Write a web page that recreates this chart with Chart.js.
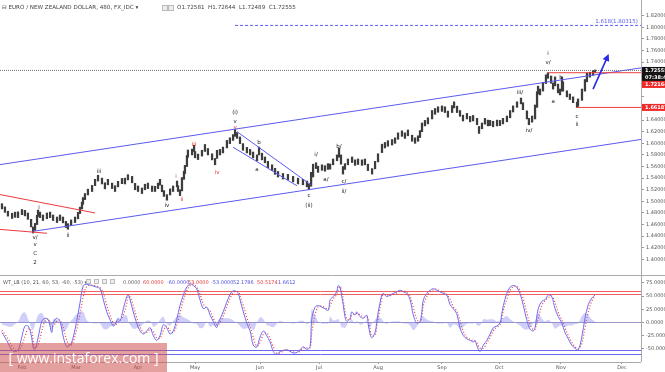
<!DOCTYPE html>
<html><head><meta charset="utf-8">
<script src="https://cdn.jsdelivr.net/npm/chart.js@4.4.0/dist/chart.umd.min.js"></script>
<style>
html,body{margin:0;padding:0;background:#fff;width:665px;height:372px;overflow:hidden;font-family:"DejaVu Sans","Liberation Sans",sans-serif;}
#wrap{position:relative;width:665px;height:372px;}
#c1{position:absolute;left:0;top:0;}
#c2{position:absolute;left:0;top:276px;}
.t{position:absolute;white-space:nowrap;font-size:5.6px;line-height:7px;color:#444;}
.o{position:absolute;white-space:nowrap;font-size:5px;line-height:6px;color:#666;}
#wm{position:absolute;left:0;top:343px;width:167px;height:29px;background:rgba(205,80,80,0.55);color:#fff;font-family:"Open Sans",sans-serif;font-size:14px;line-height:29px;text-align:center;white-space:nowrap;}
.ic{position:absolute;width:4px;height:4px;border:1px solid #bbb;background:#eee;}
</style></head>
<body><div id="wrap">
<canvas id="c1" width="665" height="276"></canvas>
<canvas id="c2" width="665" height="96"></canvas>
<div class="t" style="left:2px;top:4px;">⊟ EURO / NEW ZEALAND DOLLAR, 480, FX_IDC ▾</div>
<div class="ic" style="left:162px;top:5px;"></div><div class="ic" style="left:168px;top:5px;"></div>
<div class="t" style="left:177px;top:4px;">O1.72581&nbsp; H1.72644&nbsp; L1.72489&nbsp; C1.72555</div>
<div class="o" style="left:3px;top:279px;color:#555;">WT_LB (10, 21, 60, 53, -60, -53) ▾</div>
<div class="ic" style="left:86px;top:279px;width:3px;height:3px;"></div><div class="ic" style="left:94px;top:279px;width:3px;height:3px;"></div><div class="ic" style="left:102px;top:279px;width:3px;height:3px;"></div><div class="ic" style="left:110px;top:279px;width:3px;height:3px;"></div>
<div class="o" style="left:123px;top:279px;color:#666;">0.0000</div>
<div class="o" style="left:143px;top:279px;color:#e03a3a;">60.0000</div>
<div class="o" style="left:167px;top:279px;color:#5050e0;">-60.0000</div>
<div class="o" style="left:188px;top:279px;color:#e03a3a;">53.0000</div>
<div class="o" style="left:211px;top:279px;color:#5050e0;">-53.0000</div>
<div class="o" style="left:233px;top:279px;color:#5050e0;">52.1786</div>
<div class="o" style="left:257px;top:279px;color:#e03a3a;">50.5174</div>
<div class="o" style="left:278px;top:279px;color:#5050e0;">1.6612</div>
<div id="wm">[ www.instaforex.com ]</div>
</div>
<script>
// ---------- DATA ----------
const priceDays=[20.9,22.4,23.9,26.0,27.5,29.0,31.0,32.5,34.0,35.6,
36.6,37.6,38.6,39.1,40.1,41.6,43.6,45.2,46.7,48.7,
50.2,51.7,53.2,54.2,55.8,57.8,59.3,60.3,61.3,61.8,
62.8,64.3,66.4,67.9,69.4,71.4,72.9,74.4,76.5,78.0,
79.5,81.5,83.0,84.5,86.6,88.1,89.6,91.6,93.1,94.6,
96.7,98.2,99.7,100.7,101.7,102.7,104.2,105.8,107.3,109.3,
109.8,110.8,111.8,112.8,113.3,114.3,114.8,116.9,117.9,118.4,
119.9,121.9,123.4,124.9,127.0,128.5,129.5,131.0,132.5,134.5,
136.0,137.6,138.6,139.6,141.1,142.6,144.6,146.2,147.7,149.7,
150.7,152.2,153.7,155.2,157.3,158.8,160.3,162.8,165.3,167.9,
170.4,172.9,174.9,175.9,177.0,178.0,179.5,180.5,182.5,184.0,
185.5,186.6,188.1,190.1,191.1,192.1,193.1,194.1,195.6,197.7,
199.2,200.7,202.7,204.2,205.7,207.8,209.3,210.8,212.8,214.3,
215.8,217.9,219.4,220.9,222.9,224.4,225.9,228.0,229.5,231.0,
232.0,233.0,234.5,236.0,238.1,239.6,241.1,243.1,244.6,246.1,
248.2,249.2,250.7,252.2,253.7,255.7,257.3,258.8,260.8,261.8,
263.3,264.8,266.3,267.4,268.9,270.9,272.4,273.9,275.9,277.5,
279.0,281.0,283.0,284.0,286.0,287.0,288.6,290.1,291.1,291.6,
292.6,294.1,295.6,296.6,298.2,299.2,300.2,301.7,302.7,303.7,
304.2,306.2,307.7,309.3,311.3,311.8,313.8,315.3,316.3,317.8,
319.4,320.4];
const priceHigh=[1.4960,1.4905,1.4830,1.4795,1.4815,1.4820,1.4860,1.4845,1.4800,1.4690,
1.4560,1.4620,1.4760,1.4850,1.4815,1.4765,1.4800,1.4815,1.4765,1.4730,
1.4765,1.4730,1.4655,1.4615,1.4680,1.4730,1.4810,1.4900,1.4985,1.5065,
1.5135,1.5210,1.5275,1.5380,1.5450,1.5400,1.5320,1.5380,1.5315,1.5270,
1.5345,1.5395,1.5400,1.5460,1.5430,1.5310,1.5265,1.5230,1.5295,1.5315,
1.5265,1.5260,1.5315,1.5380,1.5280,1.5185,1.5115,1.5215,1.5265,1.5350,
1.5270,1.5200,1.5410,1.5520,1.5620,1.5790,1.5885,1.5900,1.5965,1.5860,
1.5815,1.5880,1.5980,1.5910,1.5820,1.5740,1.5880,1.5895,1.5935,1.6050,
1.6095,1.6150,1.6235,1.6185,1.6110,1.5995,1.5930,1.5895,1.5850,1.5800,
1.5935,1.5830,1.5765,1.5690,1.5630,1.5570,1.5515,1.5480,1.5465,1.5430,
1.5400,1.5380,1.5350,1.5300,1.5500,1.5640,1.5665,1.5605,1.5630,1.5615,
1.5650,1.5645,1.5730,1.5800,1.5915,1.5800,1.5600,1.5650,1.5730,1.5765,
1.5715,1.5730,1.5715,1.5730,1.5640,1.5565,1.5690,1.5820,1.5985,1.6015,
1.6045,1.6065,1.6095,1.6180,1.6215,1.6180,1.6230,1.6140,1.6095,1.6130,
1.6220,1.6350,1.6395,1.6440,1.6565,1.6600,1.6630,1.6645,1.6630,1.6555,
1.6650,1.6715,1.6640,1.6565,1.6485,1.6515,1.6465,1.6480,1.6430,1.6290,
1.6350,1.6430,1.6400,1.6395,1.6380,1.6400,1.6395,1.6430,1.6470,1.6565,
1.6645,1.6715,1.6780,1.6700,1.6560,1.6430,1.6470,1.6660,1.6890,1.6985,
1.6935,1.7050,1.7180,1.7216,1.7160,1.7040,1.7145,1.7020,1.6935,1.7140,
1.7060,1.6905,1.6850,1.6800,1.6710,1.6765,1.6935,1.7100,1.7210,1.7225,
1.7255,1.7264];
const priceLow=[1.4870,1.4810,1.4745,1.4705,1.4725,1.4720,1.4770,1.4750,1.4690,1.4560,
1.4455,1.4500,1.4600,1.4740,1.4720,1.4670,1.4700,1.4720,1.4670,1.4635,
1.4670,1.4630,1.4550,1.4520,1.4585,1.4635,1.4700,1.4790,1.4870,1.4950,
1.5030,1.5110,1.5170,1.5270,1.5350,1.5300,1.5215,1.5285,1.5220,1.5170,
1.5250,1.5305,1.5300,1.5370,1.5320,1.5200,1.5170,1.5135,1.5200,1.5220,
1.5170,1.5170,1.5220,1.5280,1.5165,1.5085,1.5020,1.5110,1.5170,1.5250,
1.5170,1.5100,1.5180,1.5380,1.5480,1.5600,1.5760,1.5800,1.5860,1.5750,
1.5720,1.5780,1.5860,1.5800,1.5715,1.5630,1.5740,1.5800,1.5835,1.5920,
1.5995,1.6050,1.6120,1.6085,1.5995,1.5880,1.5835,1.5800,1.5750,1.5700,
1.5800,1.5715,1.5665,1.5580,1.5530,1.5465,1.5420,1.5385,1.5370,1.5335,
1.5300,1.5285,1.5250,1.5200,1.5260,1.5420,1.5565,1.5500,1.5535,1.5520,
1.5550,1.5555,1.5630,1.5700,1.5760,1.5640,1.5470,1.5550,1.5630,1.5670,
1.5620,1.5635,1.5620,1.5630,1.5530,1.5470,1.5560,1.5680,1.5840,1.5920,
1.5950,1.5970,1.6000,1.6070,1.6120,1.6085,1.6130,1.6035,1.6000,1.6035,
1.6100,1.6200,1.6300,1.6335,1.6420,1.6500,1.6535,1.6550,1.6530,1.6450,
1.6530,1.6610,1.6530,1.6465,1.6385,1.6420,1.6370,1.6385,1.6320,1.6170,
1.6250,1.6330,1.6300,1.6305,1.6285,1.6300,1.6305,1.6335,1.6370,1.6440,
1.6540,1.6620,1.6680,1.6580,1.6420,1.6320,1.6365,1.6420,1.6620,1.6850,
1.6835,1.6900,1.7030,1.7120,1.7035,1.6935,1.6990,1.6870,1.6835,1.6900,
1.6900,1.6800,1.6755,1.6700,1.6619,1.6640,1.6740,1.6900,1.7060,1.7140,
1.7170,1.7220];

const oscDays=[20.8,22.4,24.1,25.8,27.5,29.1,30.9,32.5,34.2,35.9,
36.7,37.6,39.2,41.0,42.6,44.3,46.0,46.8,48.5,50.2,
51.9,53.6,55.3,56.9,58.6,60.3,62.0,63.7,66.2,68.7,
70.4,72.1,73.8,75.5,77.1,78.0,79.6,80.5,82.2,83.9,
84.7,85.6,87.2,88.9,90.6,92.3,94.0,95.7,97.3,99.0,
100.7,102.4,104.1,105.8,107.4,109.1,110.8,112.5,114.2,115.9,
117.5,119.2,120.9,122.6,124.3,126.0,127.6,129.3,130.1,131.9,
133.5,135.2,136.9,138.6,140.2,141.1,142.8,144.5,146.2,147.8,
149.5,151.2,152.9,154.6,156.3,157.9,159.6,161.3,163.0,164.7,
166.4,168.0,169.7,171.4,173.1,174.8,176.5,177.3,179.0,180.6,
182.4,184.0,185.7,186.6,188.2,189.9,190.7,191.6,192.5,193.3,
194.1,195.0,196.7,197.5,199.2,200.0,201.7,203.4,205.1,205.9,
206.8,207.6,209.3,210.1,210.9,211.8,212.7,213.5,215.2,216.9,
218.5,220.2,221.9,223.6,225.3,227.0,228.6,230.3,232.0,232.9,
233.7,235.4,237.1,238.7,240.4,242.1,243.8,245.5,247.2,248.8,
250.5,252.2,253.9,255.6,257.3,258.9,259.8,260.6,262.3,264.0,
265.7,267.4,269.0,270.7,272.4,273.2,274.1,275.8,277.5,279.1,
280.8,282.5,284.2,285.9,287.6,289.2,290.1,291.7,293.5,295.1,
296.8,298.5,300.2,301.8,303.6,305.2,306.9,308.6,310.3,311.9,
313.7,315.3,317.0,318.7,320.4];
const wt1=[-19,-28,-40,-52,-55,-52,-28,-7,-7,-28,
-49,-51,-28,2,8,5,-19,-1,8,2,
-28,-46,-43,-28,2,37,70,72,70,67,
64,43,20,5,-7,-4,8,2,26,49,
52,43,20,-1,-16,-22,-16,-10,-25,-34,
-25,-4,-10,-22,-16,5,32,52,67,73,
70,64,43,26,29,14,2,-10,-1,14,
29,46,58,60,55,43,20,-1,-16,-43,
-47,-28,-16,-25,-37,-55,-61,-55,-53,-52,
-55,-58,-57,-52,-46,-51,-46,5,29,32,
29,26,23,43,49,58,70,67,49,32,
11,2,8,20,14,20,11,8,14,-4,
-22,-29,-19,-1,20,37,52,55,49,52,
55,58,61,58,55,43,14,-1,2,20,
43,55,61,64,61,58,55,52,34,26,
17,-10,-25,-31,-34,-37,-34,-43,-55,-43,
-34,-22,-10,-7,-1,14,32,55,67,70,
67,55,32,5,-13,-16,-10,26,40,43,
52,49,26,11,-1,-19,-31,-43,-49,-52,
-28,8,34,46,52.18];
const wt2=[-15,-22,-32,-44,-52,-54,-44,-26,-12,-16,
-35,-48,-42,-16,2,6,-5,-7,2,4,
-10,-34,-44,-36,-14,16,50,68,71,69,
66,55,33,13,-1,-5,2,4,14,36,
50,48,32,10,-8,-19,-19,-13,-17,-29,
-30,-15,-7,-16,-19,-6,18,42,60,70,
72,67,54,35,27,22,8,-4,-5,6,
21,38,52,59,58,50,32,10,-8,-28,
-45,-38,-22,-20,-30,-46,-58,-58,-54,-52,
-54,-56,-57,-55,-49,-48,-48,-20,15,30,
31,28,25,32,45,53,63,68,59,41,
22,7,5,14,17,17,15,10,11,5,
-12,-25,-24,-10,8,28,45,53,52,51,
53,56,59,60,57,49,29,7,0,10,
32,49,58,62,63,60,57,53,44,30,
22,3,-17,-28,-32,-35,-36,-38,-49,-49,
-39,-28,-16,-9,-4,6,23,43,61,68,
69,61,44,19,-4,-14,-13,8,32,41,
47,50,38,19,5,-10,-25,-37,-46,-50,
-40,-10,20,40,50.52];
const wtHist=[-4,-6,-8,-8,-3,2,16,19,5,-12,
-14,-3,14,18,6,-1,-14,6,6,-2,
-18,-12,1,8,16,21,20,4,-1,-2,
-2,-12,-13,-8,-6,1,6,-2,12,13,
2,-5,-12,-11,-8,-3,3,3,-8,-5,
5,11,-3,-6,3,11,14,10,7,3,
-2,-3,-11,-9,2,-8,-6,-6,4,8,
8,8,6,1,-3,-7,-12,-11,-8,-15,
-2,10,6,-5,-7,-9,-3,3,1,0,
-1,-2,0,3,3,-3,2,25,14,2,
-2,-2,-2,11,4,5,7,-1,-10,-9,
-11,-5,3,6,-3,3,-4,-2,3,-9,
-10,-4,5,9,12,9,7,2,-3,1,
2,2,2,-2,-2,-6,-15,-8,2,10,
11,6,3,2,-2,-2,-2,-1,-10,-4,
-5,-13,-8,-3,-2,-2,2,-5,-6,6,
5,6,6,2,3,8,9,12,6,2,
-2,-6,-12,-14,-9,-2,3,18,8,2,
5,-1,-12,-8,-6,-9,-6,-6,-3,-2,
12,18,14,6,1.66];

const priceTicks=[1.40,1.42,1.44,1.46,1.48,1.50,1.52,1.54,1.56,1.58,1.60,1.62,1.64,1.66,1.68,1.70,1.72,1.74,1.76,1.78,1.80,1.82];
const hiddenPriceTicks=[1.66,1.68,1.70,1.72];
const oscTicks=[-50,-25,0,25,50,75];
const monthTickDays=[31,58.3,89.6,118.4,151.2,181,210.8,243.1,271.9,303.2,334];
const monthLabels=['Feb','Mar','Apr','May','Jun','Jul','Aug','Sep','Oct','Nov','Dec'];
const oscLevelsRed=[60,53];
const oscLevelsBlue=[-53,-60];

const lastPrice=1.72555, lastTime='07:38:46', waveTop=1.72164, waveLow=1.66187, fibLevel=1.80315;
const dayMin=19.9, dayMax=343.6;

const BLUE='#5a5af0', RED='#ee3b3b';
const trendLines=[
 {a:[19.9,1.5633],b:[343.6,1.7300],c:BLUE,w:1},
 {a:[36.6,1.4483],b:[343.6,1.6067],c:BLUE,w:1},
 {a:[139.6,1.6200],b:[177.0,1.5283],c:BLUE,w:1},
 {a:[137.6,1.5933],b:[169.9,1.5267],c:BLUE,w:1},
 {a:[19.9,1.5117],b:[67.9,1.4800],c:RED,w:1},
 {a:[19.9,1.4517],b:[43.6,1.4450],c:RED,w:1},
 {a:[296.6,waveTop],b:[343.6,waveTop],c:RED,w:1},
 {a:[311.3,waveLow],b:[343.6,waveLow],c:RED,w:1},
 {a:[138.6,fibLevel],b:[343.6,fibLevel],c:BLUE,w:1,d:[3,2]},
 {a:[19.9,lastPrice],b:[343.6,lastPrice],c:'#777',w:1,d:[1,1]}
];
const arrowFrom=[319.4,1.6933], arrowTo=[327.3,1.7540];
const waveLabels=[
 ['v/',37.6,1.4383,'k'],['v',37.6,1.4250,'k'],['C',37.6,1.4100,'k'],['2',37.6,1.3950,'k'],
 ['i',39.6,1.4900,'k'],['ii',54.2,1.4417,'k'],['iii',69.9,1.5517,'k'],['iv',104.2,1.4933,'k'],
 ['i',108.8,1.5433,'r'],['ii',111.8,1.5033,'r'],['iii',117.9,1.5983,'r'],['iv',129.5,1.5500,'r'],['v',138.6,1.6267,'r'],
 ['(i)',138.6,1.6533,'k'],['v',138.6,1.6383,'k'],
 ['a',149.7,1.5550,'k'],['b',150.7,1.6017,'k'],['c',175.9,1.5100,'k'],['(ii)',175.9,1.4933,'k'],
 ['i/',179.5,1.5800,'k'],['a/',184.5,1.5383,'k'],['b/',191.1,1.5950,'k'],['c/',193.6,1.5333,'k'],['ii/',193.6,1.5167,'k'],
 ['iii/',282.5,1.6867,'k'],['iv/',287.0,1.6217,'k'],
 ['i',296.6,1.7550,'k'],['v/',296.6,1.7383,'k'],['a',299.2,1.6717,'k'],['b',303.2,1.7133,'k'],['c',311.3,1.6467,'k'],['ii',311.3,1.6317,'k']
];

// ---------- PLUGINS ----------
const FONT='"DejaVu Sans", sans-serif';
const priceAnnot={id:'priceAnnot',
 afterDatasetsDraw(chart){
  const ctx=chart.ctx,a=chart.chartArea,X=chart.scales.x,Y=chart.scales.y;
  ctx.save();
  ctx.beginPath();ctx.rect(a.left,a.top,a.right-a.left,a.bottom-a.top);ctx.clip();
  trendLines.forEach(L=>{
   ctx.beginPath();ctx.strokeStyle=L.c;ctx.lineWidth=L.w;ctx.setLineDash(L.d||[]);
   ctx.moveTo(X.getPixelForValue(L.a[0]),Y.getPixelForValue(L.a[1]));
   ctx.lineTo(X.getPixelForValue(L.b[0]),Y.getPixelForValue(L.b[1]));
   ctx.stroke();
  });
  ctx.setLineDash([]);
  const x1=X.getPixelForValue(arrowFrom[0]),y1=Y.getPixelForValue(arrowFrom[1]);
  const x2=X.getPixelForValue(arrowTo[0]),y2=Y.getPixelForValue(arrowTo[1]);
  const ang=Math.atan2(y2-y1,x2-x1);
  ctx.strokeStyle='#2a2ae8';ctx.fillStyle='#2a2ae8';ctx.lineWidth=1.6;
  ctx.beginPath();ctx.moveTo(x1,y1);ctx.lineTo(x2-4*Math.cos(ang),y2-4*Math.sin(ang));ctx.stroke();
  ctx.beginPath();ctx.moveTo(x2,y2);
  ctx.lineTo(x2-7*Math.cos(ang)+3.5*Math.sin(ang),y2-7*Math.sin(ang)-3.5*Math.cos(ang));
  ctx.lineTo(x2-7*Math.cos(ang)-3.5*Math.sin(ang),y2-7*Math.sin(ang)+3.5*Math.cos(ang));
  ctx.closePath();ctx.fill();
  ctx.font='5.5px '+FONT;ctx.textAlign='center';ctx.textBaseline='middle';
  waveLabels.forEach(l=>{
   ctx.fillStyle=l[3]==='r'?'#e8302c':'#222';
   ctx.fillText(l[0],X.getPixelForValue(l[1]),Y.getPixelForValue(l[2]));
  });
  ctx.fillStyle=BLUE;ctx.textAlign='right';ctx.textBaseline='bottom';ctx.font='5.5px '+FONT;
  ctx.fillText('1.618(1.80315)',a.right-3,Y.getPixelForValue(fibLevel)-1);
  ctx.restore();
 },
 afterDraw(chart){
  const ctx=chart.ctx,a=chart.chartArea,Y=chart.scales.y;
  ctx.save();
  ctx.strokeStyle='#aaa';ctx.lineWidth=1;
  ctx.beginPath();ctx.moveTo(a.right+0.5,0);ctx.lineTo(a.right+0.5,chart.height);ctx.stroke();
  ctx.beginPath();ctx.moveTo(0,chart.height-0.5);ctx.lineTo(chart.width,chart.height-0.5);ctx.stroke();
  const box=(yc,txt,bg)=>{
   ctx.fillStyle=bg;ctx.fillRect(a.right+1,yc-3.5,chart.width-a.right-1,7);
   ctx.fillStyle='#fff';ctx.font='bold 5px '+FONT;ctx.textAlign='left';ctx.textBaseline='middle';
   ctx.fillText(txt,a.right+4,yc+0.3);
  };
  const yl=Y.getPixelForValue(lastPrice);
  box(yl,lastPrice.toFixed(5),'#111');
  box(yl+7,lastTime,'#111');
  box(Math.max(Y.getPixelForValue(waveTop),yl+14),waveTop.toFixed(5),'#f02a2a');
  box(Y.getPixelForValue(waveLow),waveLow.toFixed(5),'#f02a2a');
  ctx.restore();
 }
};

const oscAnnot={id:'oscAnnot',
 beforeDatasetsDraw(chart){
  const ctx=chart.ctx,a=chart.chartArea,Y=chart.scales.y;
  ctx.save();ctx.lineWidth=1;
  const hl=(v,c)=>{const y=Math.round(Y.getPixelForValue(v))+0.5;ctx.strokeStyle=c;ctx.beginPath();ctx.moveTo(a.left,y);ctx.lineTo(a.right,y);ctx.stroke();};
  oscLevelsRed.forEach(v=>hl(v,'#f06060'));
  oscLevelsBlue.forEach(v=>hl(v,'#6a6af0'));
  hl(0,'#9a9ac8');
  ctx.restore();
 },
 afterDraw(chart){
  const ctx=chart.ctx,a=chart.chartArea;
  ctx.save();ctx.strokeStyle='#aaa';ctx.lineWidth=1;
  ctx.beginPath();ctx.moveTo(a.right+0.5,0);ctx.lineTo(a.right+0.5,a.bottom);ctx.stroke();
  ctx.beginPath();ctx.moveTo(0,a.bottom+0.5);ctx.lineTo(a.right,a.bottom+0.5);ctx.stroke();
  ctx.restore();
 }
};

// ---------- CHART 1 : price ----------
new Chart(document.getElementById('c1'),{
 type:'bar',
 data:{datasets:[{
  data:priceDays.map((d,i)=>({x:d,y:[priceLow[i],priceHigh[i]]})),
  backgroundColor:'#3d3d3d',borderWidth:0,barThickness:1.6,grouped:false
 }]},
 options:{
  responsive:false,animation:false,devicePixelRatio:1,
  layout:{padding:0},
  plugins:{legend:{display:false},tooltip:{enabled:false}},
  scales:{
   x:{type:'linear',min:dayMin,max:dayMax,display:false,offset:false,grid:{display:false}},
   y:{position:'right',min:1.38,max:1.838333,
    afterFit(s){s.width=24;},
    afterBuildTicks(s){s.ticks=priceTicks.map(v=>({value:v}));},
    ticks:{font:{size:5,family:FONT},color:'#555',padding:2,autoSkip:false,
     callback:(v)=>hiddenPriceTicks.some(h=>Math.abs(h-v)<1e-6)?'':Number(v).toFixed(5)},
    grid:{display:true,drawOnChartArea:false,tickLength:3,color:'#999'},
    border:{display:false}}
  }
 },
 plugins:[priceAnnot]
});

// ---------- CHART 2 : oscillator ----------
new Chart(document.getElementById('c2'),{
 type:'line',
 data:{datasets:[
  {data:oscDays.map((d,i)=>({x:d,y:wtHist[i]})),borderWidth:0,backgroundColor:'rgba(110,110,240,0.33)',fill:'origin',pointRadius:0,tension:0.3},
  {data:oscDays.map((d,i)=>({x:d,y:wt1[i]})),borderColor:'#6c6cf2',borderWidth:1,pointRadius:0,tension:0.35,fill:false},
  {data:oscDays.map((d,i)=>({x:d,y:wt2[i]})),borderColor:'#f03c3c',borderWidth:1.2,borderDash:[1,2],pointRadius:0,tension:0.35,fill:false}
 ]},
 options:{
  responsive:false,animation:false,devicePixelRatio:1,
  layout:{padding:0},
  plugins:{legend:{display:false},tooltip:{enabled:false}},
  scales:{
   x:{type:'linear',min:dayMin,max:dayMax,offset:false,
    afterFit(s){s.height=10;},
    afterBuildTicks(s){s.ticks=monthTickDays.map(v=>({value:v}));},
    ticks:{font:{size:5,family:FONT},color:'#555',padding:1,maxRotation:0,autoSkip:false,
     callback:(v,i)=>monthLabels[i]},
    grid:{display:true,drawOnChartArea:false,tickLength:2,color:'#999'},
    border:{display:false}},
   y:{position:'right',min:-75,max:78.6,
    afterFit(s){s.width=24;},
    afterBuildTicks(s){s.ticks=oscTicks.map(v=>({value:v}));},
    ticks:{font:{size:5,family:FONT},color:'#555',padding:2,autoSkip:false,callback:(v)=>Number(v).toFixed(4)},
    grid:{display:true,drawOnChartArea:false,tickLength:3,color:'#999'},
    border:{display:false}}
  }
 },
 plugins:[oscAnnot]
});
</script>
</body></html>
